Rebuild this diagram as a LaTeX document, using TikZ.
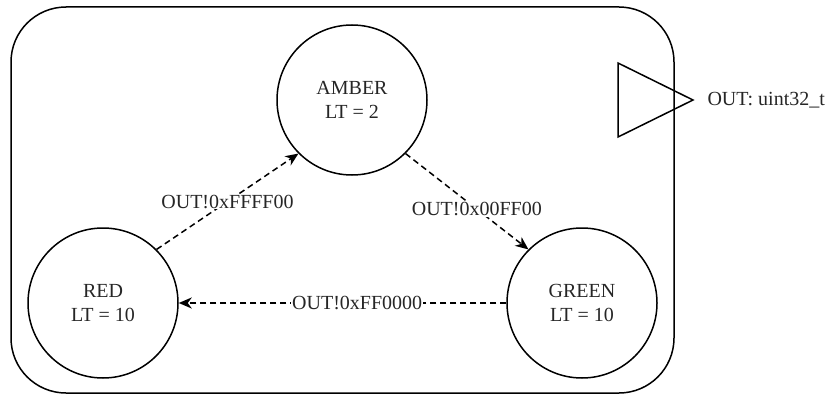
\documentclass[tikz,border=0pt]{standalone}
\usepackage{fontspec}
\setmainfont{Liberation Serif}
\usetikzlibrary{arrows.meta}
\begin{document}
\begin{tikzpicture}[x=1pt,y=-1pt,
  every node/.style={font=\fontsize{20}{24}\selectfont, text=black!85},
  state/.style={draw, circle, line width=1.5pt, minimum size=150pt, inner sep=0pt, align=center},
  trans/.style={draw, line width=1.5pt, dash pattern=on 6pt off 4pt, -{Stealth[length=13pt,width=11pt,inset=4pt]}},
  lbl/.style={fill=white, inner sep=1pt}]
\useasboundingbox (0,0) rectangle (827,396);
% machine boundary
\draw[line width=1.5pt, rounded corners=55pt] (11,7) rectangle (674,393);
% output port
\coordinate (pA) at (618,63);
\coordinate (pB) at (618,137);
\coordinate (pC) at (693,100);
\draw[line width=1.5pt] (pA) -- (pC) -- (pB) -- cycle;
\node[anchor=west] (port) at (704,100) {OUT: uint32\_t};
% states
\node[state] (amber) at (352,100) {AMBER\\LT = 2};
\node[state] (red) at (103,303) {RED\\LT = 10};
\node[state] (green) at (582,303) {GREEN\\LT = 10};
% transitions
\draw[trans] (red.45) -- node[lbl, pos=0.5] {OUT!0xFFFF00} (amber.225);
\draw[trans] (amber.-45) -- node[lbl, pos=0.58] {OUT!0x00FF00} (green.135);
\draw[trans] (green.180) -- node[lbl, pos=0.455] {OUT!0xFF0000} (red.0);
\end{tikzpicture}
\end{document}
